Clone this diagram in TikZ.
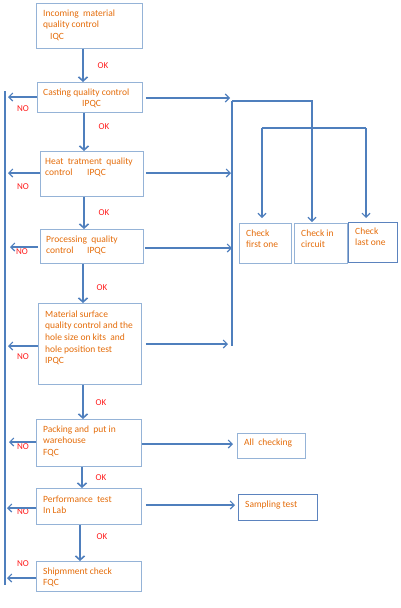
\documentclass[tikz,border=0pt]{standalone}
\usepackage{fontspec}
\setmainfont{Carlito}
\usetikzlibrary{arrows.meta,calc}
\definecolor{lb}{HTML}{95B3D7}
\definecolor{db}{HTML}{5B83BE}
\definecolor{ab}{HTML}{4F7FBD}
\definecolor{tor}{HTML}{E46C0A}
\definecolor{okred}{HTML}{FF1A1A}
\begin{document}
\begin{tikzpicture}[x=1pt,y=-1pt,
  box/.style={draw=lb, line width=0.9pt, anchor=north west, inner sep=0pt},
  dbox/.style={box, draw=db},
  txt/.style={anchor=north west, inner sep=0pt, text=tor, font=\fontsize{9.5}{11.7}\selectfont, align=left},
  lab/.style={text=okred, font=\fontsize{9}{10}\selectfont, inner sep=0pt},
  down/.style={draw=ab, line width=2.2pt, -{Straight Barb[length=4pt,width=9pt,line width=1.6pt]}},
  side/.style={draw=ab, line width=1.1pt, -{Straight Barb[length=4pt,width=8pt]}},
  bus/.style={draw=ab, line width=1.1pt}]
\useasboundingbox (0,0) rectangle (400,608);
% main boxes
\node[box, minimum width=106pt, minimum height=45pt] (b1) at (36,3) {};
\node[box, minimum width=105pt, minimum height=30pt] (b2) at (37,82) {};
\node[box, minimum width=103pt, minimum height=45pt] (b3) at (40,151) {};
\node[box, minimum width=103pt, minimum height=34pt] (b4) at (40,229) {};
\node[box, minimum width=103pt, minimum height=81pt] (b5) at (38,303) {};
\node[box, minimum width=105pt, minimum height=47pt] (b6) at (36,419) {};
\node[box, minimum width=105pt, minimum height=36pt] (b7) at (36,488) {};
\node[box, minimum width=105pt, minimum height=30pt] (b8) at (36,561) {};
% side boxes
\node[box, minimum width=52pt, minimum height=40pt] (c1) at (239,223) {};
\node[box, minimum width=53pt, minimum height=40pt] (c2) at (294,223) {};
\node[dbox, minimum width=49pt, minimum height=40pt] (c3) at (348,222) {};
\node[box, minimum width=68pt, minimum height=25pt] (a1) at (237,433) {};
\node[dbox, minimum width=79pt, minimum height=26pt] (s1) at (238,494) {};
% texts (y = first baseline - 8.2)
\node[txt] (t1) at (43,7.8) {\strut Incoming\ \ material\\quality control\\\hspace*{7pt}IQC};
\node[txt] (t2) at (43,86.8) {\strut Casting quality control\\\hspace*{39pt}IPQC};
\node[txt] (t3) at (45,155.8) {\strut Heat\ \ tratment\ \ quality\\\makebox[42pt][l]{control}IPQC};
\node[txt] (t4) at (46,233.8) {\strut Processing\ \ quality\\\makebox[41pt][l]{control}IPQC};
\node[txt] (t5) at (45,308.8) {\strut Material surface\\quality control and the\\hole size on kits\ \ and\\hole position test\\IPQC};
\node[txt] (t6) at (43,423.8) {\strut Packing and\ \ put in\\warehouse\\FQC};
\node[txt] (t7) at (43,493.8) {\strut Performance\ \ test\\In Lab};
\node[txt] (t8) at (43,565.8) {\strut Shipmment check\\FQC};
\node[txt] (tc1) at (246,227.8) {\strut Check\\first one};
\node[txt] (tc2) at (301,227.8) {\strut Check in\\circuit};
\node[txt] (tc3) at (355,225.8) {\strut Check\\last one};
\node[txt] (ta1) at (244,436.8) {\strut All\ \ checking};
\node[txt] (ts1) at (245,498.8) {\strut Sampling test};
% OK labels
\node[lab] (ok1) at (103,66) {OK};
\node[lab] (ok2) at (104,127) {OK};
\node[lab] (ok3) at (104,213) {OK};
\node[lab] (ok4) at (102,288) {OK};
\node[lab] (ok5) at (101,403) {OK};
\node[lab] (ok6) at (101,478) {OK};
\node[lab] (ok7) at (102,537) {OK};
% NO labels
\node[lab] (no1) at (23,109) {NO};
\node[lab] (no2) at (23,187) {NO};
\node[lab] (no3) at (22,252) {NO};
\node[lab] (no4) at (23,357) {NO};
\node[lab] (no5) at (23,447) {NO};
\node[lab] (no6) at (23,512) {NO};
\node[lab] (no7) at (23,564) {NO};
% down arrows
\draw[down] ([xshift=47pt]b1.south west) -- ([xshift=46pt]b2.north west);
\draw[down] ([xshift=47pt]b2.south west) -- ([xshift=44pt]b3.north west);
\draw[down] ([xshift=44pt]b3.south west) -- ([xshift=44pt]b4.north west);
\draw[down] ([xshift=43pt]b4.south west) -- ([xshift=45pt]b5.north west);
\draw[down] ([xshift=45pt]b5.south west) -- ([xshift=47pt]b6.north west);
\draw[down] ([xshift=46pt]b6.south west) -- ([xshift=46pt]b7.north west);
\draw[down] ([xshift=44pt]b7.south west) -- ([xshift=44pt]b8.north west);
% left bus
\coordinate (lt) at (5,91);
\coordinate (lb0) at (5,585);
\coordinate (L) at (8,0);
\draw[bus] (lt) -- (lb0);
\coordinate (n2) at ($(b2.north west)+(0,15)$);
\coordinate (n3) at ($(b3.north west)+(0,22)$);
\coordinate (n4) at ($(b4.north west)+(0,18)$);
\coordinate (n5) at ($(b5.north west)+(0,43)$);
\coordinate (n6) at ($(b6.north west)+(0,23)$);
\coordinate (n7) at ($(b7.north west)+(0,20)$);
\coordinate (n8) at ($(b8.north west)+(0,17)$);
\draw[side] (n2) -- (n2 -| L);
\draw[side] (n3) -- (n3 -| L);
\draw[side] ($(n4)+(-2,0)$) -- ($(n4 -| L)+(2,0)$);
\draw[side] (n5) -- (n5 -| L);
\draw[side] (n6) -- ($(n6 -| L)+(1,0)$);
\draw[side] (n7) -- ($(n7 -| L)+(-1,0)$);
\draw[side] (n8) -- ($(n8 -| L)+(-1,0)$);
% right bus
\coordinate (rt) at (232,101);
\coordinate (rb) at (232,346);
\coordinate (rc) at (312,101);
\coordinate (h1) at (262,128);
\coordinate (h2) at (366,128);
\coordinate (R) at (231,0);
\draw[bus] (rt) -- (rb);
\draw[side] (rt) -- (rc) -- ($(rc |- c2.north)+(0,-1)$);
\draw[bus] (h1) -- (h2);
\draw[side] (h1) -- ($(h1 |- c1.north)+(0,-5)$);
\draw[side] (h2) -- ($(h2 |- c3.north)+(0,-4)$);
\coordinate (e2) at ($(b2.north east)+(3,16)$);
\coordinate (e3) at ($(b3.north east)+(2,22)$);
\coordinate (e4) at ($(b4.north east)+(1,19)$);
\coordinate (e5) at ($(b5.north east)+(4,41)$);
\draw[side] (e2) -- ($(e2 -| R)+(-1,0)$);
\draw[side] (e3) -- (e3 -| R);
\draw[side] (e4) -- ($(e4 -| R)+(1,0)$);
\draw[side] (e5) -- ($(e5 -| R)+(-3,0)$);
\coordinate (e6) at ($(b6.north east)+(0,25)$);
\coordinate (e7) at ($(b7.north east)+(4,17)$);
\draw[side] (e6) -- ($(e6 -| a1.west)+(-4,0)$);
\draw[side] (e7) -- ($(e7 -| s1.west)+(-3,0)$);
\end{tikzpicture}
\end{document}
